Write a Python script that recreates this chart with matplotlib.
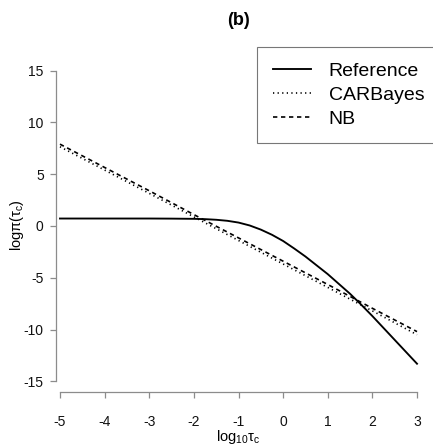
import matplotlib
matplotlib.use('Agg')
import matplotlib.pyplot as plt

# ---- data ----
log10_tau = [-5, -4, -3, -2.5, -2, -1.75, -1.5, -1.25, -1, -0.75, -0.5, -0.25,
             0, 0.25, 0.5, 0.75, 1, 1.25, 1.5, 1.75, 2, 2.5, 3]
reference = [0.72, 0.72, 0.72, 0.71, 0.69, 0.66, 0.60, 0.50, 0.33, 0.05, -0.35, -0.85,
             -1.45, -2.18, -2.95, -3.80, -4.65, -5.60, -6.55, -7.60, -8.70, -11.0, -13.3]

log10_tau_lin = [-5, -4, -3, -2, -1, 0, 1, 2, 3]
carbayes = [7.65, 5.40, 3.15, 0.88, -1.40, -3.67, -5.93, -8.20, -10.5]
nb = [7.90, 5.65, 3.40, 1.10, -1.15, -3.40, -5.65, -7.95, -10.2]

series_labels = ['Reference', 'CARBayes', 'NB']
xticks = [-5, -4, -3, -2, -1, 0, 1, 2, 3]
yticks = [-15, -10, -5, 0, 5, 10, 15]

# ---- style ----
plt.rcParams['font.family'] = ['Liberation Sans', 'DejaVu Sans']
plt.rcParams['mathtext.fontset'] = 'custom'
plt.rcParams['mathtext.rm'] = 'Liberation Sans'
plt.rcParams['mathtext.it'] = 'Liberation Sans'
plt.rcParams['mathtext.bf'] = 'Liberation Sans:bold'

W, H = 433, 446
fig = plt.figure(figsize=(W / 100, H / 100), dpi=100)

# axes box in pixels
L, R, T, B = 45.7, 431.3, 58.2, 392.0
ax = fig.add_axes([L / W, (H - B) / H, (R - L) / W, (B - T) / H])
ax.set_xlim(-5.32, 3.32)
ax.set_ylim(-16.03, 16.2)

ax.plot(log10_tau, reference, color='black', lw=1.35, label=series_labels[0])
ax.plot(log10_tau_lin, carbayes, color='black', lw=1.2, dashes=(0.75, 2.0),
        label=series_labels[1])
ax.plot(log10_tau_lin, nb, color='black', lw=1.2, dashes=(2.6, 2.2),
        label=series_labels[2])

axis_col = '#8c8c8c'
for s in ['top', 'right']:
    ax.spines[s].set_visible(False)
ax.spines['left'].set_position(('data', -5.09))
ax.spines['left'].set_bounds(-15, 15)
ax.spines['bottom'].set_bounds(-5, 3)
for s in ['left', 'bottom']:
    ax.spines[s].set_color(axis_col)
    ax.spines[s].set_linewidth(0.9)

ax.set_xticks(xticks)
ax.set_xticklabels([str(t) for t in xticks])
ax.set_yticks(yticks)
ax.set_yticklabels([str(t) for t in yticks])
ax.tick_params(axis='x', length=4.2, width=0.9, color=axis_col, labelsize=10,
               pad=12, labelcolor='#111111')
ax.tick_params(axis='y', length=4.3, width=0.9, color=axis_col, labelsize=10,
               pad=4.5, labelcolor='#111111')

ax.set_xlabel(r'$\mathrm{log}_{10}\tau_\mathrm{c}$', fontsize=10.5)
ax.xaxis.label.set_va('center')
ax.xaxis.set_label_coords(0.5, (B - 437) / (B - T))
ax.set_ylabel(r'$\mathrm{log}\pi(\tau_\mathrm{c})$', fontsize=10.5)
ax.yaxis.label.set_va('center')
ax.yaxis.set_label_coords((17 - L) / (R - L), 0.5)

ax.text(0.5, (B - 20) / (B - T), '(b)', transform=ax.transAxes,
        ha='center', va='center', fontsize=13, fontweight='bold')

leg = ax.legend(loc='upper left', bbox_to_anchor=(257 / W, 1 - 46.7 / H),
                bbox_transform=fig.transFigure, borderaxespad=0,
                fontsize=14, handlelength=1.96, handletextpad=0.93,
                borderpad=0.8, labelspacing=0.32, fancybox=False,
                framealpha=1, edgecolor='#777777')
leg.get_frame().set_linewidth(0.8)

fig.savefig('out.png', dpi=100)
